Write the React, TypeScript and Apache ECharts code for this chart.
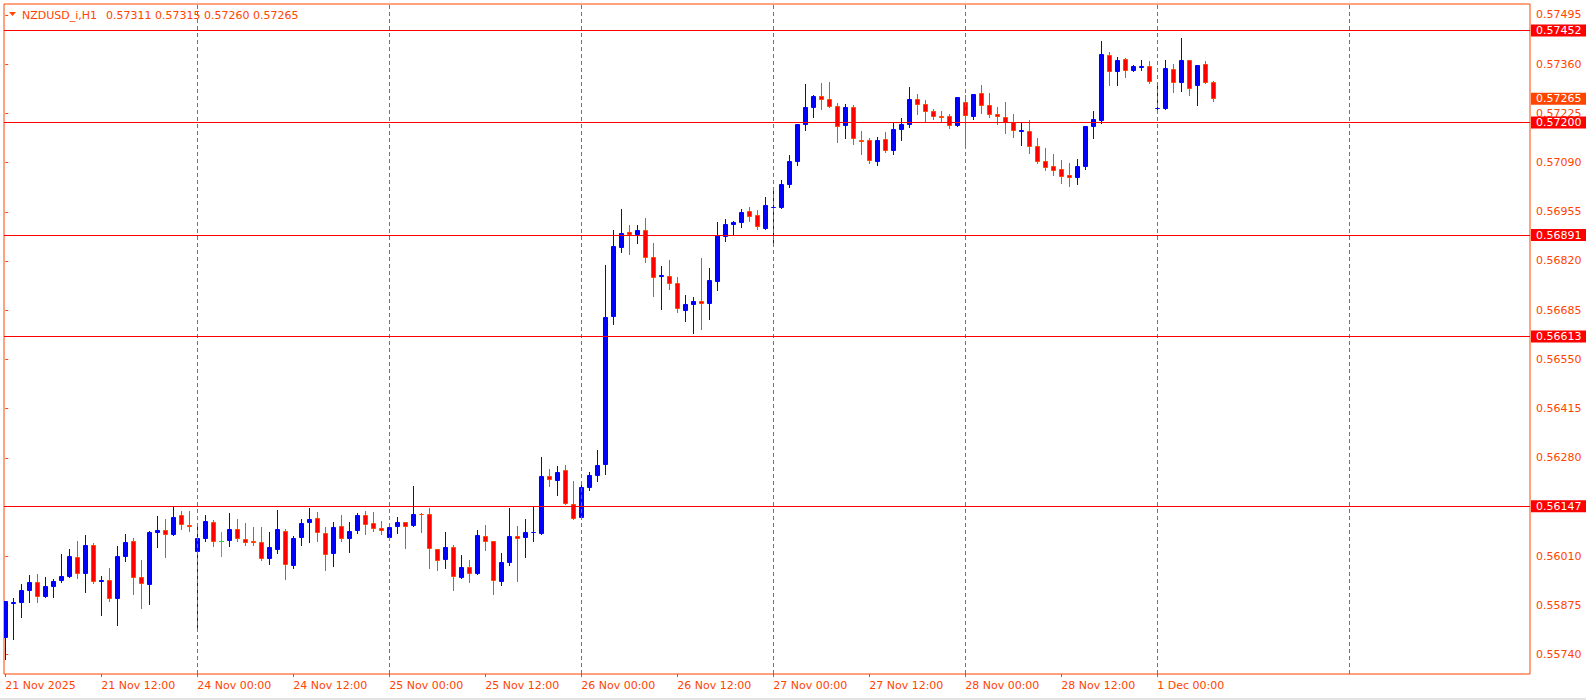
import React, { useEffect, useRef } from "react";
import * as echarts from "echarts";

const symbolName = "NZDUSD_i,H1";

const opens = [
  0.55787, 0.55879, 0.55883, 0.55916, 0.5594, 0.55899, 0.55927, 0.55942, 0.55954, 0.56008,
  0.55962, 0.56041, 0.5594, 0.55945, 0.55894, 0.56009, 0.56052, 0.55953, 0.55932, 0.56075,
  0.56082, 0.56069, 0.56123, 0.56096, 0.56023, 0.56058, 0.56104, 0.56052, 0.56053, 0.56085,
  0.56057, 0.56053, 0.56049, 0.56003, 0.56027, 0.56079, 0.55983, 0.5606, 0.56102, 0.56115,
  0.56074, 0.56017, 0.56093, 0.56058, 0.56079, 0.56123, 0.56101, 0.56088, 0.5606, 0.5609,
  0.56104, 0.56093, 0.56127, 0.56126, 0.5603, 0.56, 0.56036, 0.55951, 0.55981, 0.5596,
  0.56066, 0.56052, 0.5594, 0.55992, 0.56066, 0.5606, 0.56075, 0.56071, 0.5623, 0.56217,
  0.56247, 0.56154, 0.56116, 0.56198, 0.56231, 0.56259, 0.56665, 0.56857, 0.569, 0.56892,
  0.56905, 0.56831, 0.56777, 0.56779, 0.5676, 0.56683, 0.567, 0.5671, 0.56703, 0.56763,
  0.56887, 0.5692, 0.56923, 0.56957, 0.56946, 0.56909, 0.56964, 0.56964, 0.57029, 0.57092,
  0.57193, 0.5724, 0.57273, 0.57265, 0.57245, 0.57191, 0.57243, 0.57152, 0.57152, 0.57092,
  0.57155, 0.57122, 0.5718, 0.57193, 0.57265, 0.57251, 0.57232, 0.57218, 0.57218, 0.57191,
  0.57256, 0.57215, 0.57281, 0.57248, 0.57223, 0.57215, 0.57202, 0.57175, 0.57177, 0.57136,
  0.57095, 0.57081, 0.57073, 0.57056, 0.57049, 0.57078, 0.57188, 0.57204, 0.57385, 0.57339,
  0.57374, 0.57342, 0.5735, 0.57355, 0.57236, 0.57237, 0.57347, 0.57307, 0.57372, 0.57301,
  0.57361, 0.57311,
];

const highs = [
  0.55887, 0.55896, 0.55934, 0.55959, 0.55961, 0.55952, 0.55948, 0.56016, 0.5603, 0.56052,
  0.56068, 0.56047, 0.55956, 0.55978, 0.56038, 0.56071, 0.56059, 0.56, 0.56079, 0.56121,
  0.56112, 0.56148, 0.56134, 0.56134, 0.56093, 0.56123, 0.5611, 0.56077, 0.56129, 0.56112,
  0.56101, 0.5609, 0.5609, 0.56077, 0.56137, 0.56085, 0.56066, 0.56112, 0.56143, 0.56132,
  0.5609, 0.56104, 0.56123, 0.56104, 0.56129, 0.56134, 0.56132, 0.56107, 0.56101, 0.56118,
  0.56104, 0.56203, 0.56129, 0.56143, 0.5603, 0.56077, 0.56041, 0.56014, 0.56, 0.56082,
  0.56096, 0.56052, 0.56019, 0.56143, 0.56093, 0.56112, 0.56145, 0.56282, 0.5625, 0.56258,
  0.56261, 0.56217, 0.56217, 0.56241, 0.56302, 0.56809, 0.56905, 0.56963, 0.56919, 0.56919,
  0.56938, 0.5687, 0.56806, 0.56823, 0.56776, 0.56727, 0.56721, 0.56828, 0.56801, 0.56927,
  0.56935, 0.5693, 0.56963, 0.56968, 0.5696, 0.56996, 0.57015, 0.57042, 0.57111, 0.57196,
  0.57306, 0.57276, 0.57309, 0.57311, 0.57254, 0.57251, 0.57248, 0.57177, 0.57158, 0.5716,
  0.57174, 0.57202, 0.57212, 0.57298, 0.57278, 0.57262, 0.57237, 0.57232, 0.57223, 0.5727,
  0.57276, 0.57278, 0.57303, 0.57281, 0.57243, 0.57256, 0.57223, 0.57202, 0.57207, 0.57158,
  0.5713, 0.57114, 0.57097, 0.57089, 0.571, 0.57191, 0.57232, 0.57424, 0.57394, 0.5738,
  0.57377, 0.57358, 0.57372, 0.57369, 0.57306, 0.57372, 0.57361, 0.57432, 0.57372, 0.57358,
  0.57369, 0.57315,
];

const lows = [
  0.55728, 0.55783, 0.55842, 0.55885, 0.55885, 0.55899, 0.55899, 0.5594, 0.55954, 0.55951,
  0.55913, 0.55938, 0.55849, 0.55888, 0.55822, 0.55998, 0.55907, 0.55869, 0.5588, 0.56036,
  0.56009, 0.56069, 0.56086, 0.56078, 0.55811, 0.56053, 0.56039, 0.56012, 0.56039, 0.56053,
  0.56042, 0.56042, 0.56, 0.55989, 0.5602, 0.55948, 0.55978, 0.56042, 0.56049, 0.56053,
  0.55973, 0.55984, 0.56053, 0.56023, 0.56075, 0.56071, 0.56079, 0.56071, 0.56055, 0.56074,
  0.56033, 0.56093, 0.56077, 0.55978, 0.55972, 0.55978, 0.55918, 0.55951, 0.5594, 0.5596,
  0.56027, 0.55907, 0.55932, 0.55986, 0.55943, 0.56008, 0.56052, 0.56071, 0.56203, 0.56178,
  0.56154, 0.56113, 0.56116, 0.56193, 0.56217, 0.56237, 0.56648, 0.56846, 0.5684, 0.56868,
  0.56816, 0.56725, 0.56687, 0.56744, 0.56681, 0.56656, 0.56623, 0.56634, 0.56662, 0.56741,
  0.56876, 0.5689, 0.56912, 0.56931, 0.56909, 0.56909, 0.56869, 0.56964, 0.57023, 0.57084,
  0.5718, 0.57215, 0.57237, 0.57243, 0.57147, 0.57158, 0.57141, 0.57114, 0.57089, 0.57084,
  0.57119, 0.57114, 0.57152, 0.57188, 0.57223, 0.57202, 0.5721, 0.57204, 0.57185, 0.57191,
  0.57138, 0.5721, 0.57226, 0.57215, 0.57196, 0.57171, 0.5716, 0.57138, 0.57116, 0.57089,
  0.5707, 0.57056, 0.57034, 0.57027, 0.5703, 0.57073, 0.57158, 0.57199, 0.57303, 0.57303,
  0.57325, 0.57342, 0.57344, 0.57307, 0.57229, 0.57237, 0.57284, 0.57287, 0.57274, 0.57249,
  0.57309, 0.5726,
];

const closes = [
  0.55887, 0.55885, 0.55918, 0.5594, 0.55899, 0.55929, 0.55942, 0.55956, 0.56011, 0.55962,
  0.56041, 0.5594, 0.55945, 0.55894, 0.56011, 0.56049, 0.55951, 0.55935, 0.56077, 0.56082,
  0.56067, 0.56118, 0.56097, 0.56091, 0.5606, 0.56107, 0.5605, 0.56052, 0.56085, 0.56058,
  0.56047, 0.56047, 0.56003, 0.56036, 0.56085, 0.55987, 0.5606, 0.56101, 0.56112, 0.56075,
  0.56014, 0.5609, 0.56058, 0.56079, 0.56123, 0.56097, 0.56086, 0.5608, 0.5609, 0.56104,
  0.5609, 0.56126, 0.56123, 0.56031, 0.55998, 0.56036, 0.55954, 0.55981, 0.5596, 0.56068,
  0.5605, 0.55943, 0.55994, 0.56066, 0.56058, 0.56077, 0.56077, 0.5623, 0.5622, 0.56241,
  0.56154, 0.56113, 0.562, 0.56233, 0.56261, 0.56667, 0.56861, 0.56897, 0.56892, 0.56905,
  0.56829, 0.56774, 0.56782, 0.56758, 0.56687, 0.56702, 0.5671, 0.56703, 0.56768, 0.56892,
  0.56922, 0.56927, 0.56955, 0.56942, 0.56912, 0.56974, 0.56968, 0.57031, 0.57095, 0.57196,
  0.57243, 0.57273, 0.57262, 0.57243, 0.57188, 0.57243, 0.57155, 0.57147, 0.57095, 0.57152,
  0.57122, 0.57182, 0.57196, 0.57265, 0.57249, 0.5723, 0.57216, 0.57213, 0.57191, 0.5727,
  0.57218, 0.57278, 0.57245, 0.57221, 0.57215, 0.57199, 0.57177, 0.57178, 0.57133, 0.57092,
  0.57076, 0.57067, 0.57051, 0.57049, 0.57081, 0.57191, 0.5721, 0.57388, 0.57339, 0.57372,
  0.57342, 0.57355, 0.57355, 0.57312, 0.5724, 0.5735, 0.57309, 0.57372, 0.57293, 0.57358,
  0.57309, 0.57265,
];

const tickIndex = [0, 12, 24, 36, 48, 60, 72, 84, 96, 108, 120, 132, 144];
const tickLabels = [
  "21 Nov 2025", "21 Nov 12:00", "24 Nov 00:00", "24 Nov 12:00", "25 Nov 00:00",
  "25 Nov 12:00", "26 Nov 00:00", "26 Nov 12:00", "27 Nov 00:00", "27 Nov 12:00",
  "28 Nov 00:00", "28 Nov 12:00", "1 Dec 00:00",
];
const dayBreaks = [24, 48, 72, 96, 120, 144, 168];
const levels = [0.57452, 0.572, 0.56891, 0.56613, 0.56147];
const priceTicks = [
  0.57495, 0.5736, 0.57225, 0.5709, 0.56955, 0.5682, 0.56685, 0.5655, 0.56415, 0.5628,
  0.5601, 0.55875, 0.5574,
];

const FG = "#FF4500";
const FONT = "DejaVu Sans";

const boxLabel = (text: string, bg: string) => ({
  show: true,
  position: "end",
  distance: 1,
  formatter: text,
  backgroundColor: bg,
  color: "#FFFFFF",
  opacity: 1,
  fontFamily: FONT,
  fontSize: 11,
  lineHeight: 12,
  padding: [0, 6, 0, 5],
});

export default function App() {
  const ref = useRef<HTMLDivElement>(null);
  useEffect(() => {
    const chart = echarts.init(ref.current!, null, { renderer: "svg" });
    const data = opens.map((o, i) => [i, o, highs[i], lows[i], closes[i]]);
    const last = data.length - 1;

    const vLines = dayBreaks.map((d) => ({
      xAxis: d,
      lineStyle: { color: FG, type: [4, 3], width: 1, opacity: 1 },
      label: { show: false },
    }));
    const hLines: any[] = levels.map((lv) => ({
      yAxis: lv,
      lineStyle: { color: "#FF0000", type: "solid", width: 1, opacity: 1 },
      label: boxLabel(lv.toFixed(5), "#FF0000"),
    }));
    hLines.push({
      yAxis: closes[last],
      lineStyle: { color: "rgba(255,255,255,0)", type: "solid", width: 1, opacity: 1 },
      label: boxLabel(closes[last].toFixed(5), FG),
    });

    const option: any = {
      animation: false,
      backgroundColor: "#FFFFFF",
      grid: {
        left: 4,
        right: 56,
        top: 4,
        bottom: 26,
        show: true,
        borderColor: FG,
        borderWidth: 1,
        backgroundColor: "#FFFFFF",
      },
      xAxis: {
        type: "value",
        min: -0.15,
        max: 190.6,
        axisLine: { show: false },
        splitLine: { show: false },
        axisTick: {
          show: true,
          length: 3,
          customValues: tickIndex,
          lineStyle: { color: FG },
        },
        axisLabel: {
          customValues: tickIndex,
          formatter: (v: number) => {
            const k = tickIndex.indexOf(Math.round(v));
            return k >= 0 ? tickLabels[k] : "";
          },
          align: "left",
          margin: 6,
          color: FG,
          fontFamily: FONT,
          fontSize: 11,
        },
      },
      yAxis: {
        type: "value",
        position: "right",
        min: 0.55687,
        max: 0.57525,
        axisLine: { show: false },
        splitLine: { show: false },
        axisTick: {
          show: true,
          length: 3,
          customValues: priceTicks,
          lineStyle: { color: FG },
        },
        axisLabel: {
          customValues: priceTicks,
          formatter: (v: number) => v.toFixed(5),
          margin: 6,
          color: FG,
          fontFamily: FONT,
          fontSize: 11,
        },
      },
      graphic: [
        {
          type: "rect",
          shape: { x: 0, y: 698, width: 1586, height: 2 },
          style: { fill: "#E3E3E3" },
          silent: true,
        },
        {
          type: "polygon",
          shape: { points: [[9, 12], [16, 12], [12.5, 16]] },
          style: { fill: FG },
          z: 100,
        },
        {
          type: "text",
          x: 22,
          y: 15,
          style: {
            text: symbolName,
            fill: FG,
            fontFamily: FONT,
            fontSize: 11,
            verticalAlign: "middle",
            align: "left",
          },
          z: 100,
        },
        {
          type: "text",
          x: 106,
          y: 15,
          style: {
            text: [opens[last], highs[last], lows[last], closes[last]]
              .map((v) => v.toFixed(5))
              .join(" "),
            fill: FG,
            fontFamily: FONT,
            fontSize: 11,
            verticalAlign: "middle",
            align: "left",
          },
          z: 100,
        },
      ],
      series: [
        {
          name: "levels",
          type: "line",
          data: closes.map((c, i) => [i, c]),
          showSymbol: false,
          symbol: "none",
          silent: true,
          lineStyle: { opacity: 0, width: 0 },
          markLine: {
            silent: true,
            precision: 5,
            symbol: ["none", "none"],
            animation: false,
            data: [...vLines, ...hLines],
          },
          z: 3,
        },
        {
          name: "candles",
          type: "custom",
          clip: true,
          data,
          encode: { x: 0, y: [1, 2, 3, 4] },
          renderItem: (params: any, api: any) => {
            const i = api.value(0);
            const o = api.value(1);
            const h = api.value(2);
            const l = api.value(3);
            const c = api.value(4);
            const pO = api.coord([i, o]);
            const pC = api.coord([i, c]);
            const pH = api.coord([i, h]);
            const pL = api.coord([i, l]);
            const cx = Math.round(pO[0]);
            const bull = c > o;
            const bear = c < o;
            const fill = bull ? "#0000FF" : bear ? "#FF0000" : "#32CD32";
            const edge = bull ? "#0000FF" : bear ? FG : "#32CD32";
            const top = Math.round(Math.min(pO[1], pC[1]));
            const bot = Math.round(Math.max(pO[1], pC[1]));
            const yH = Math.round(pH[1]);
            const yL = Math.round(pL[1]);
            const children: any[] = [
              {
                type: "line",
                shape: { x1: cx + 0.5, y1: yH, x2: cx + 0.5, y2: yL + 1 },
                style: { stroke: edge, lineWidth: 1 },
              },
            ];
            if (bull || bear) {
              children.push({
                type: "rect",
                shape: { x: cx - 1.5, y: top + 0.5, width: 4, height: Math.max(bot - top - 1, 0) },
                style: { fill, stroke: edge, lineWidth: 1 },
              });
            } else {
              children.push({
                type: "line",
                shape: { x1: cx - 2, y1: top + 0.5, x2: cx + 3, y2: top + 0.5 },
                style: { stroke: edge, lineWidth: 1 },
              });
            }
            return { type: "group", children };
          },
          z: 2,
        },
      ],
    };
    chart.setOption(option);
    return () => chart.dispose();
  }, []);
  return (
    <div
      ref={ref}
      style={{ position: "fixed", left: 0, top: 0, width: 1586, height: 700, background: "#FFFFFF" }}
    />
  );
}
